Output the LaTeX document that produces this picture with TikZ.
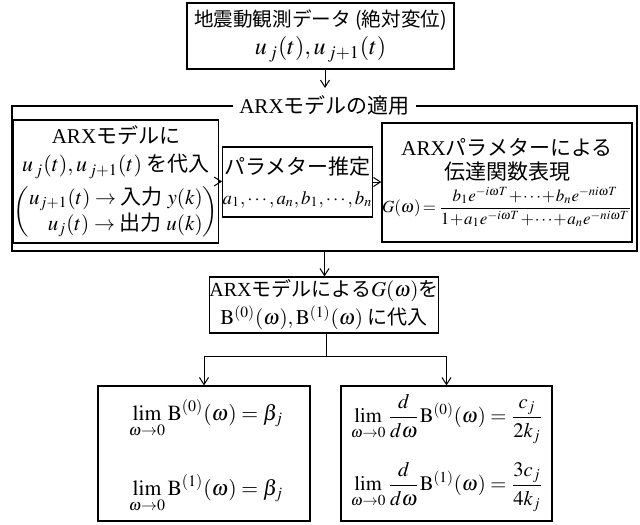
\documentclass[tikz,border=0pt]{standalone}
\usepackage{mathptmx}
\usepackage{fontspec}
\setmainfont{Liberation Serif}
\newfontfamily\jp{Noto Sans CJK JP}
\newfontfamily\lr{Liberation Serif}
\newcommand\MM[2]{{\fontsize{#1}{#1}\selectfont$#2$}}
\newcommand\limz{\lim_{\rule{0pt}{1.15ex}\omega\to0}}
\usetikzlibrary{arrows.meta}
\begin{document}
\begin{tikzpicture}[x=0.5pt,y=-0.5pt,
 box/.style={draw,line width=0.6pt,inner sep=0pt,align=center},
 jpa/.style={font=\fontsize{10.5}{15}\selectfont\jp},
 frame/.style={draw,line width=1pt},
 arr/.style={-{Straight Barb[length=3.5pt,width=4.5pt]},line width=0.5pt},
 eq/.style={inner sep=0pt}]
\useasboundingbox (0,0) rectangle (640,524);
% top
\node[box,font=\fontsize{9.8}{14}\selectfont\jp,minimum width=133.5pt,minimum height=33pt] (obs) at (320.5,36)
  {地震動観測データ (絶対変位)\\\MM{12}{u_{\,j}(t),u_{\,j+1}(t)}};
% frame
\node[frame,minimum width=312.5pt,minimum height=72.5pt] (frame) at (324.5,178.5) {};
\node[fill=white,inner xsep=3pt,inner ysep=1pt,jpa] (ttl) at (frame.north) {{\lr ARX}モデルの適用};
\coordinate (e1) at (325,88);
\draw[arr] (obs.south -| e1) -- (e1);
% inner boxes
\node[box,font=\fontsize{10.5}{14}\selectfont\jp,minimum width=96pt,minimum height=61.5pt] (sub) at (116,181.5)
  {{\lr ARX}モデルに\\\MM{11}{u_{\,j}(t),u_{\,j+1}(t)} を代入\\[3pt]
   \MM{10.5}{\left(\begin{array}{@{}r@{}}u_{j+1}(t)\rightarrow\mbox{\fontsize{10.5}{12}\selectfont 入力}\;y(k)\\[1pt] u_{j}(t)\rightarrow\mbox{\fontsize{10.5}{12}\selectfont 出力}\;u(k)\end{array}\right)}};
\node[box,jpa,minimum width=74.5pt,minimum height=35pt] (est) at (297.5,182)
  {パラメター推定\\\MM{9.4}{\thinmuskip=2mu a_1,\cdots,a_n,b_1,\cdots,b_n}};
\node[box,font=\fontsize{10.5}{12}\selectfont\jp,minimum width=125pt,minimum height=59.5pt] (tf) at (507,182.5)
  {{\lr ARX}パラメターによる\\伝達関数表現\\[2pt]
   \MM{8.5}{\medmuskip=0.8mu\thickmuskip=2.5mu G(\omega)=\displaystyle\frac{b_1e^{-i\omega T}+\cdots+b_ne^{-ni\omega T}}{1+a_1e^{-i\omega T}+\cdots+a_ne^{-ni\omega T}}}};
\draw[arr] (sub.east) -- (sub.east -| est.west);
\draw[arr] (est.east) -- (est.east -| tf.west);
% substitution box
\node[box,font=\fontsize{10}{14}\selectfont\jp,minimum width=113pt,minimum height=28pt] (sel) at (324,305)
  {{\lr ARX}モデルによる\MM{10.5}{G(\omega)}を\\\MM{10.5}{\mathrm{B}^{(0)}(\omega),\mathrm{B}^{(1)}(\omega)} に代入};
\draw[arr] (frame.south) -- (frame.south |- sel.north);
% bottom boxes
\node[box,minimum width=106pt,minimum height=67.5pt] (lim0) at (204,453.5) {};
\node[box,minimum width=105.5pt,minimum height=67.5pt] (lim1) at (446.5,453.5) {};
\node[eq] (l0a) at (206,419) {\MM{10.8}{\displaystyle\limz\mathrm{B}^{(0)}(\omega)=\beta_j}};
\node[eq] (l0b) at (206,494) {\MM{10.8}{\displaystyle\limz\mathrm{B}^{(1)}(\omega)=\beta_j}};
\node[eq] (l1a) at (447,419) {\MM{10.3}{\displaystyle\limz\frac{d}{d\omega}\mathrm{B}^{(0)}(\omega)=\frac{c_j}{2k_j}}};
\node[eq] (l1b) at (447,487) {\MM{10.3}{\displaystyle\limz\frac{d}{d\omega}\mathrm{B}^{(1)}(\omega)=\frac{3c_j}{4k_j}}};
% branch
\coordinate (j) at (326,356);
\draw[line width=0.5pt] (sel.south -| j) -- (j);
\draw[arr] (j) -| (lim0.north);
\draw[arr] (j) -| (lim1.north);
\end{tikzpicture}
\end{document}
